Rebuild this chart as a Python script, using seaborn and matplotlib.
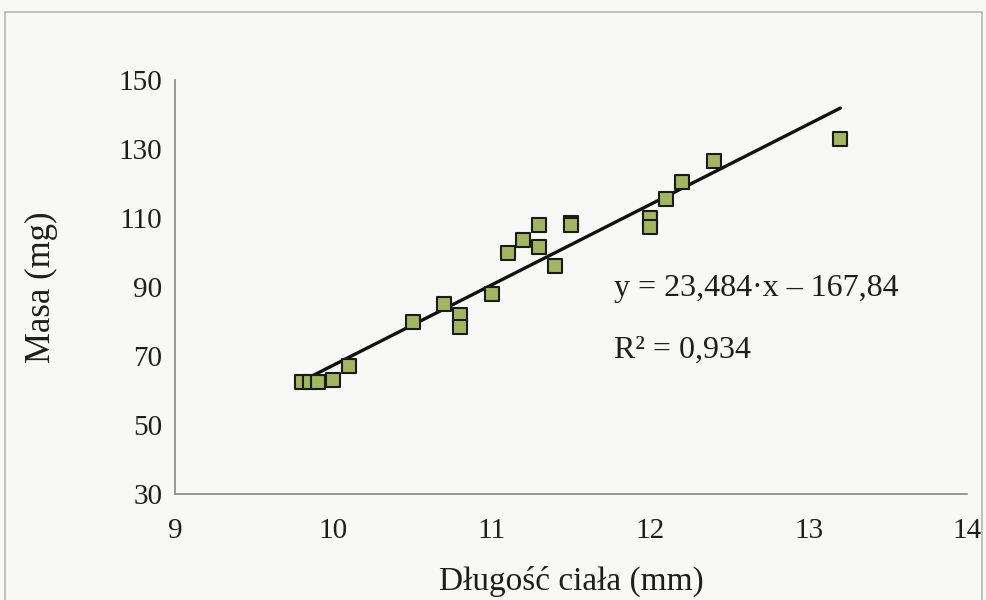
import numpy as np
import pandas as pd
import matplotlib
matplotlib.use("Agg")
import matplotlib.pyplot as plt
import seaborn as sns
from matplotlib.patches import Rectangle

# body length (mm) and mass (mg)
length_mm = [9.8, 9.85, 9.9, 10.0, 10.1, 10.5, 10.7, 10.8, 10.8, 11.0, 11.1, 11.2,
             11.3, 11.3, 11.4, 11.5, 11.5, 12.0, 12.0, 12.1, 12.2, 12.4, 13.2]
mass_mg = [62.5, 62.5, 62.5, 63.0, 67.0, 80.0, 85.0, 82.0, 78.5, 88.0, 100.0, 103.5,
           108.0, 101.5, 96.0, 108.5, 108.0, 110.0, 107.5, 115.5, 120.5, 126.5, 133.0]

x_ticks = [9, 10, 11, 12, 13, 14]
y_ticks = [30, 50, 70, 90, 110, 130, 150]
eq_text = "y = 23,484\u00b7x \u2013 167,84"
r2_text = "R\u00b2 = 0,934"

df = pd.DataFrame({"length": length_mm, "mass": mass_mg})

sns.set_style("white")
plt.rcParams["font.family"] = ["Liberation Serif", "DejaVu Serif"]

bg = "#f8f8f7"
txt = "#1e1e1e"
fig = plt.figure(figsize=(9.87, 6.0), dpi=100, facecolor=bg)
ax = fig.add_axes([175 / 987, 106 / 600, 792 / 987, 414 / 600])
ax.set_facecolor(bg)

# outer chart frame
fig.patches.append(Rectangle((5 / 987, -0.1), 0.99, 1.08, transform=fig.transFigure,
                             fill=False, edgecolor="#b5b5b5", linewidth=1.2))

# regression line
sns.regplot(data=df, x="length", y="mass", ax=ax, scatter=False, ci=None,
            truncate=True, line_kws={"color": "#111111", "linewidth": 2.4})
# points
sns.scatterplot(data=df, x="length", y="mass", ax=ax, marker="s", s=105,
                color="#a2b660", edgecolor="#1a1a1a", linewidth=1.5, zorder=3)

ax.set_xlim(9, 14)
ax.set_ylim(30, 150)
ax.set_xticks(x_ticks)
ax.set_yticks(y_ticks)
ax.tick_params(axis="both", direction="out", length=5, width=1, color="#888888",
               labelsize=21, labelcolor=txt, pad=4)
ax.tick_params(axis="x", pad=12)
for side in ["top", "right"]:
    ax.spines[side].set_visible(False)
for side in ["left", "bottom"]:
    ax.spines[side].set_color("#888888")
    ax.spines[side].set_linewidth(1.2)

ax.set_xlabel("D\u0142ugo\u015b\u0107 cia\u0142a (mm)", fontsize=24, color=txt, labelpad=16)
ax.set_ylabel("Masa (mg)", fontsize=25, color=txt, labelpad=44)

ax.text(11.77, 89.7, eq_text, fontsize=23, color=txt, va="center", ha="left")
ax.text(11.77, 71.7, r2_text, fontsize=23, color=txt, va="center", ha="left")

fig.savefig("out.png", dpi=100, facecolor=bg)
